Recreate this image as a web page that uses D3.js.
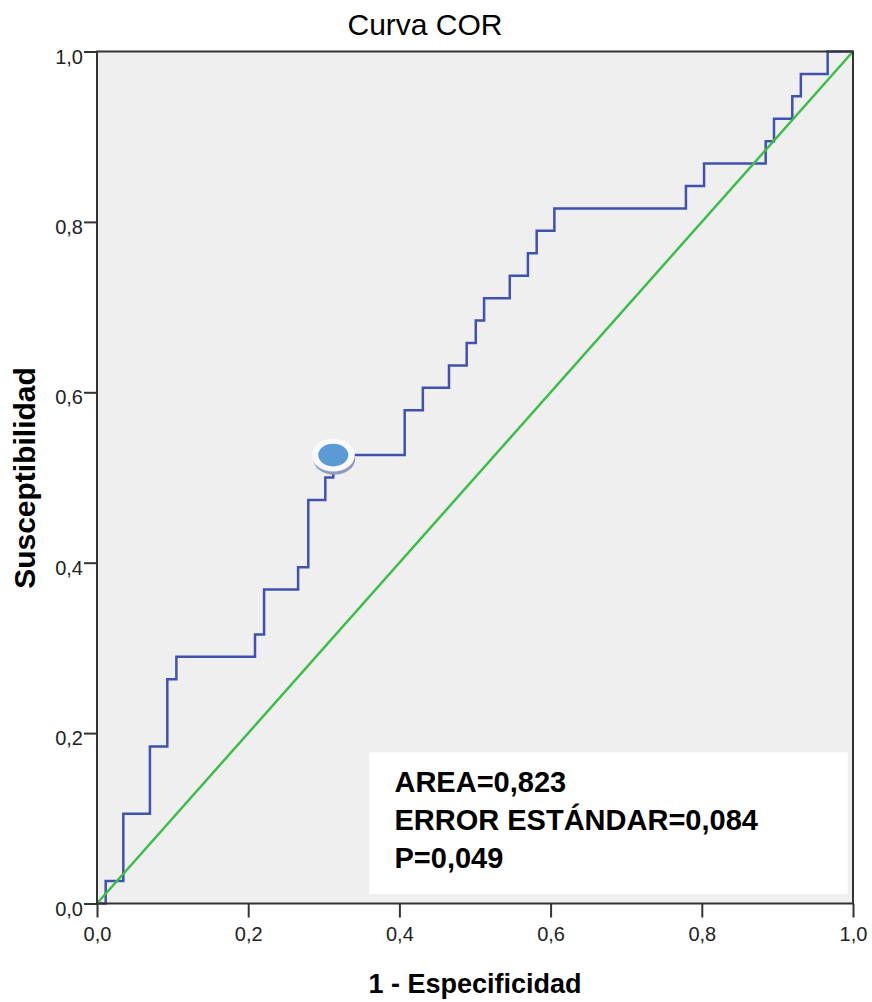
<!DOCTYPE html>
<html>
<head>
<meta charset="utf-8">
<script src="https://cdn.jsdelivr.net/npm/d3@7"></script>
<style>
    body { margin: 0; background: #fff; }
    svg text { font-family: "Liberation Sans", Arial, sans-serif; }
</style>
</head>
<body>
<div id="chart"></div>
<script>
//Datos de la curva COR (puntos tras cada salto)
const fpr = [0, 0.0115, 0.0348, 0.070, 0.093, 0.105, 0.209, 0.221, 0.266, 0.2795, 0.302, 0.3125, 0.407, 0.431, 0.4656, 0.489, 0.501, 0.512, 0.546, 0.570, 0.5816, 0.605, 0.779, 0.803, 0.8845, 0.8955, 0.9197, 0.931, 0.9665, 1];
const tpr = [0, 0.0263, 0.1053, 0.1842, 0.2632, 0.2895, 0.3158, 0.3684, 0.3947, 0.4737, 0.5, 0.5263, 0.5789, 0.6053, 0.6316, 0.6579, 0.6842, 0.7105, 0.7368, 0.7632, 0.7895, 0.8158, 0.8421, 0.8684, 0.8947, 0.9211, 0.9474, 0.9737, 1, 1];
const diagonal = [0, 1];
const puntoCorte = [0.3125, 0.5263];
const ticks = [0, 0.2, 0.4, 0.6, 0.8, 1];
const resumen = ['AREA=0,823', 'ERROR ESTÁNDAR=0,084', 'P=0,049'];

const COLOR_COR = '#4052b0',
COLOR_REF = '#3dbd4a',
COLOR_EJE = '#333333';

let margin = {top: 51.5, right: 19, bottom: 98.5, left: 97},
    width = 872 - margin.left - margin.right,
    height = 1002 - margin.top - margin.bottom;

let svg = d3.select('#chart')
    .append('svg')
      .attr('width', 872)
      .attr('height', 1002)
    .append('g')
      .attr('transform', 'translate(' + margin.left + ',' + margin.top + ')');

let x = d3.scaleLinear().domain([0, 1]).range([0, width]);
let y = d3.scaleLinear().domain([0, 1]).range([height, 0]);
let fmt = function(d) { return d3.format('.1f')(d).replace('.', ','); };

//Fondo
svg.append('rect')
    .attr('width', width)
    .attr('height', height)
    .attr('fill', '#efefef');

//Cuadro de resumen
let caja = svg.append('g');
caja.append('rect')
    .attr('x', x(0.36))
    .attr('y', y(0.1775))
    .attr('width', x(0.993) - x(0.36))
    .attr('height', y(0.011) - y(0.1775))
    .attr('fill', '#ffffff');

caja.selectAll('text')
    .data(resumen)
    .enter()
    .append('text')
    .attr('x', x(0.3935))
    .attr('y', function(d, i) { return 791.7 - margin.top + i * 38.3; })
    .attr('font-size', '29px')
    .attr('font-weight', 'bold')
    .attr('fill', '#000')
    .text(function(d) { return d; });

//Curva COR
let puntos = fpr.map(function(d, i) { return [d, tpr[i]]; });
let linea = d3.line()
    .x(function(d) { return x(d[0]); })
    .y(function(d) { return y(d[1]); })
    .curve(d3.curveStepAfter);

svg.append('path')
    .datum(puntos)
    .attr('d', linea)
    .attr('fill', 'none')
    .attr('stroke', COLOR_COR)
    .attr('stroke-width', 2.5);

//Linea de referencia
svg.append('line')
    .attr('x1', x(diagonal[0]))
    .attr('y1', y(diagonal[0]))
    .attr('x2', x(diagonal[1]))
    .attr('y2', y(diagonal[1]))
    .attr('stroke', COLOR_REF)
    .attr('stroke-width', 2.5);

//Punto de corte
let px = x(puntoCorte[0]), py = y(puntoCorte[1]);
svg.append('ellipse')
    .attr('cx', px + 1).attr('cy', py + 4)
    .attr('rx', 21).attr('ry', 15.5)
    .attr('fill', '#8d9cc0');
svg.append('ellipse')
    .attr('cx', px).attr('cy', py)
    .attr('rx', 21.5).attr('ry', 16.5)
    .attr('fill', '#f9f9f9');
svg.append('ellipse')
    .attr('cx', px).attr('cy', py)
    .attr('rx', 15).attr('ry', 11.3)
    .attr('fill', '#5b9bd5');

//Ejes
let xAxis = svg.append('g')
    .attr('transform', 'translate(0,' + height + ')')
    .call(d3.axisBottom(x).tickValues(ticks).tickFormat(fmt).tickSize(14).tickPadding(9));

let yAxis = svg.append('g')
    .call(d3.axisLeft(y).tickValues(ticks).tickFormat(fmt).tickSize(13).tickPadding(1));

[xAxis, yAxis].forEach(function(g) {
    g.select('.domain').remove();
    g.selectAll('.tick line').attr('stroke', COLOR_EJE).attr('stroke-width', 2);
    g.selectAll('.tick text')
        .attr('fill', '#222')
        .style('font-size', '20px')
        .style('font-family', '"Liberation Sans", Arial, sans-serif');
});
yAxis.selectAll('.tick text').attr('dy', '0.58em');

//Marco
svg.append('rect')
    .attr('width', width)
    .attr('height', height)
    .attr('fill', 'none')
    .attr('stroke', COLOR_EJE)
    .attr('stroke-width', 2);

//Titulos
svg.append('text')
    .attr('x', 425 - margin.left)
    .attr('y', 35 - margin.top)
    .attr('text-anchor', 'middle')
    .attr('font-size', '30px')
    .attr('fill', '#000')
    .text('Curva COR');

svg.append('text')
    .attr('x', width / 2)
    .attr('y', 993.3 - margin.top)
    .attr('text-anchor', 'middle')
    .attr('font-size', '27px')
    .attr('font-weight', 'bold')
    .attr('fill', '#000')
    .text('1 - Especificidad');

svg.append('text')
    .attr('transform', 'translate(' + (35 - margin.left) + ',' + (478 - margin.top) + ') rotate(-90)')
    .attr('text-anchor', 'middle')
    .attr('font-size', '30px')
    .attr('font-weight', 'bold')
    .attr('fill', '#000')
    .text('Susceptibilidad');
</script>
</body>
</html>
